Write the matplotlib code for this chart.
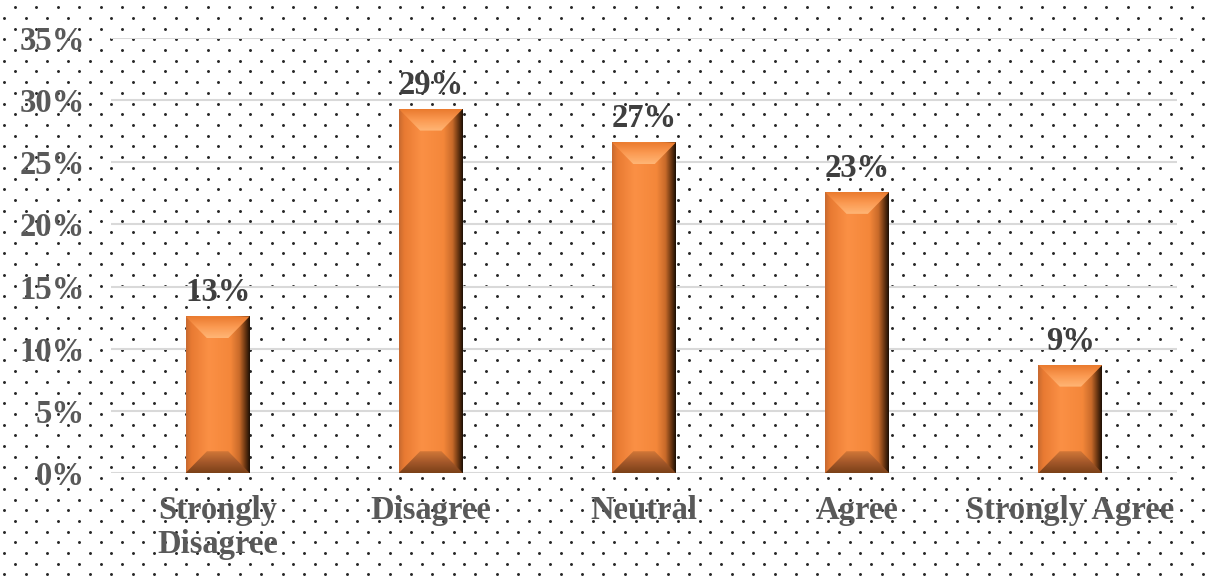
import matplotlib.pyplot as plt
import numpy as np
from matplotlib.patches import Polygon
from matplotlib.colors import LinearSegmentedColormap

# survey responses (percent of respondents)
categories = ["Strongly\nDisagree", "Disagree", "Neutral", "Agree", "Strongly Agree"]
percents = [12.6, 29.3, 26.6, 22.6, 8.7]
yticks = [0, 5, 10, 15, 20, 25, 30, 35]

W, H, DPI = 1207, 581, 100
fig = plt.figure(figsize=(W / DPI, H / DPI), dpi=DPI)
plt.rcParams['font.family'] = ['Liberation Serif', 'DejaVu Serif']

# dotted backdrop over the whole figure
bg = fig.add_axes([0, 0, 1, 1], zorder=0)
bg.set_xlim(0, W)
bg.set_ylim(H, 0)
bg.axis('off')
step = 21.4
rows = np.arange(7.3, H + 10, step / 2)
px, py = [], []
for i, ry in enumerate(rows):
    off = 15.0 if i % 2 == 0 else 15.0 - step / 2
    xs = np.arange(off, W + 10, step)
    px.extend(xs)
    py.extend([ry] * len(xs))
bg.scatter(px, py, s=4.5, color='#262626', linewidths=0)

ax = fig.add_axes([111 / W, 1 - 473 / H, (1177 - 111) / W, (473 - 38) / H], zorder=1)
ax.patch.set_alpha(0)
x = np.arange(len(categories))
bar_w = 0.3
bars = ax.bar(x, percents, width=bar_w, color='none', zorder=3)


def shade(poly, colors, direction, z):
    # fill a polygon with a linear gradient through the given colours
    patch = Polygon(poly, closed=True, facecolor='none', edgecolor='none', zorder=z)
    ax.add_patch(patch)
    cmap = LinearSegmentedColormap.from_list('g', colors)
    g = np.linspace(0, 1, 128)
    img = g[None, :] if direction == 'h' else g[:, None]
    xs_ = [p[0] for p in poly]
    ys_ = [p[1] for p in poly]
    im = ax.imshow(img, cmap=cmap, aspect='auto', origin='lower',
                   extent=[min(xs_), max(xs_), min(ys_), max(ys_)], zorder=z,
                   interpolation='bilinear')
    im.set_clip_path(patch)


bx, by = 0.1, 1.75
body = [(0.0, '#c86a30'), (0.08, '#e87a32'), (0.35, '#fb9045'), (0.7, '#f4873a'),
        (0.84, '#c86a2a'), (0.93, '#6a3612'), (1.0, '#1e1005')]
for b in bars:
    x0, y0 = b.get_x(), b.get_y()
    x1, y1 = x0 + b.get_width(), y0 + b.get_height()
    full = [(x0, y0), (x1, y0), (x1, y1), (x0, y1)]
    patch = Polygon(full, closed=True, facecolor='none', edgecolor='none', zorder=3)
    ax.add_patch(patch)
    cmap = LinearSegmentedColormap.from_list('body', body)
    im = ax.imshow(np.linspace(0, 1, 128)[None, :], cmap=cmap, aspect='auto',
                   origin='lower', extent=[x0, x1, y0, y1], zorder=3,
                   interpolation='bilinear')
    im.set_clip_path(patch)
    top = [(x0, y1), (x1, y1), (x1 - bx, y1 - by), (x0 + bx, y1 - by)]
    shade(top, ['#ffb676', '#fb9a52', '#ea7a2e'], 'v', 3.1)
    bottom = [(x0, y0), (x1, y0), (x1 - bx, y0 + by), (x0 + bx, y0 + by)]
    shade(bottom, ['#7a4018', '#a4582a', '#d27838'], 'v', 3.1)
    ax.annotate(f"{b.get_height():.0f}%", (b.get_x() + b.get_width() / 2, y1),
                xytext=(0, 6), textcoords='offset points', ha='center', va='bottom',
                fontsize=23.5, fontweight='bold', color='#3f3f3f', zorder=5)

ax.set_xlim(-0.5, len(categories) - 0.5)
ax.set_ylim(0, 35)
ax.set_yticks(yticks)
ax.set_yticklabels([f"{t}%" for t in yticks])
ax.set_xticks(x)
ax.set_xticklabels(categories, linespacing=1.1)
ax.grid(axis='y', color='#d9d9d9', linewidth=1.5, zorder=0)
ax.set_axisbelow(True)
for s in ax.spines.values():
    s.set_visible(False)
ax.tick_params(axis='both', length=0, labelsize=23.5, labelcolor='#595959')
ax.tick_params(axis='y', pad=19)
ax.tick_params(axis='x', pad=16)
for lbl in ax.get_xticklabels() + ax.get_yticklabels():
    lbl.set_fontweight('bold')

fig.savefig('out.png', dpi=DPI)
